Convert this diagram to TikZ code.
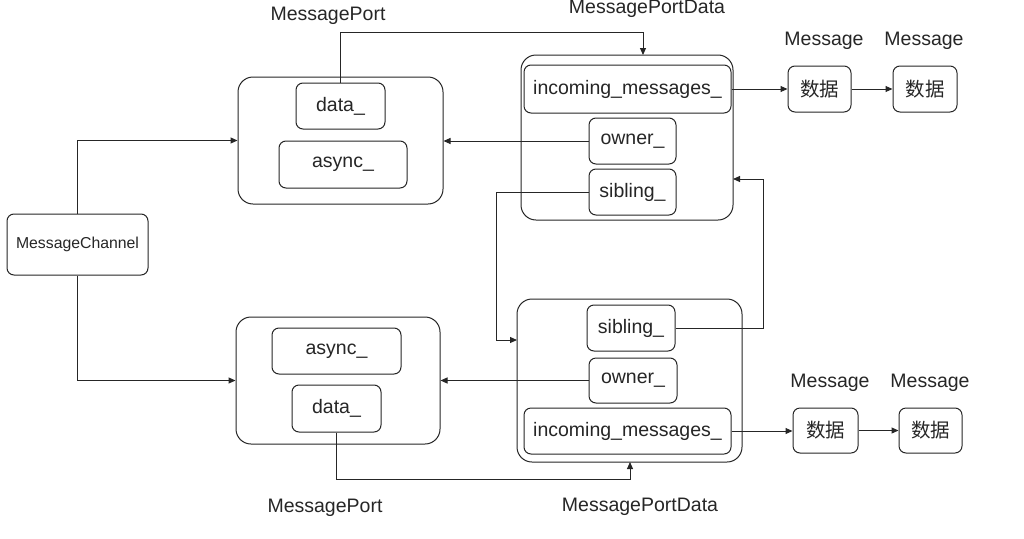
\documentclass[tikz,border=0pt]{standalone}
\usepackage{fontspec}
\setmainfont{Liberation Sans}
\newfontfamily\cjk{Noto Sans CJK SC}
\usetikzlibrary{arrows.meta,calc}
\begin{document}
\begin{tikzpicture}[x=1pt,y=-1pt,
  every node/.style={text=black!85, font=\fontsize{19.5}{23}\selectfont},
  outerbox/.style={draw=black!85, line width=1pt, rounded corners=15pt, fill=white, inner sep=0pt},
  innerbox/.style={draw=black!85, line width=1pt, rounded corners=7pt, fill=white, inner sep=0pt},
  lbl/.style={inner sep=0pt},
  arr/.style={draw=black!85, line width=1pt, -{Triangle[length=7pt,width=6pt]}}]
\useasboundingbox (0,0) rectangle (1024,538);

% MessageChannel
\node[innerbox, minimum width=141, minimum height=61, font=\fontsize{15.8}{19}\selectfont] (mc) at (77.5,244.5) {MessageChannel};

% top MessagePort
\node[outerbox, minimum width=205, minimum height=127] (tmp) at (340.5,140.5) {};
\node[innerbox, minimum width=89, minimum height=46] (tdata) at (340.5,106) {data\_};
\node[innerbox, minimum width=128, minimum height=47] (tasync) at (343,164.5) {async\_};
\node[lbl] (tmplbl) at (328,16) {MessagePort};

% top MessagePortData
\node[outerbox, minimum width=212, minimum height=165] (tmpd) at (627,137.5) {};
\node[innerbox, minimum width=207, minimum height=48] (tinc) at (627.5,89) {incoming\_messages\_};
\node[innerbox, minimum width=87, minimum height=46] (towner) at (632.5,141) {owner\_};
\node[innerbox, minimum width=87, minimum height=46] (tsib) at (632.5,192) {sibling\_};
\node[lbl] (tmpdlbl) at (647,9) {MessagePortData};

% top messages
\node[innerbox, minimum width=63, minimum height=46] (tm1) at (819.5,89) {\cjk 数据};
\node[innerbox, minimum width=64, minimum height=46] (tm2) at (925,89) {\cjk 数据};
\node[lbl] (tm1lbl) at (824,41) {Message};
\node[lbl] (tm2lbl) at (924,41) {Message};

% bottom MessagePort
\node[outerbox, minimum width=204, minimum height=127] (bmp) at (338,380.5) {};
\node[innerbox, minimum width=129, minimum height=46] (basync) at (336.5,351) {async\_};
\node[innerbox, minimum width=89, minimum height=47] (bdata) at (336.5,408.5) {data\_};
\node[lbl] (bmplbl) at (325,508) {MessagePort};

% bottom MessagePortData
\node[outerbox, minimum width=225, minimum height=163] (bmpd) at (629.5,380.5) {};
\node[innerbox, minimum width=88, minimum height=46] (bsib) at (631,328) {sibling\_};
\node[innerbox, minimum width=88, minimum height=45] (bowner) at (633,380.5) {owner\_};
\node[innerbox, minimum width=207, minimum height=46] (binc) at (627.5,431) {incoming\_messages\_};
\node[lbl] (bmpdlbl) at (640,507) {MessagePortData};

% bottom messages
\node[innerbox, minimum width=65, minimum height=45] (bm1) at (825.5,430.5) {\cjk 数据};
\node[innerbox, minimum width=63, minimum height=45] (bm2) at (930.5,430.5) {\cjk 数据};
\node[lbl] (bm1lbl) at (830,383) {Message};
\node[lbl] (bm2lbl) at (930,383) {Message};

% connector end points on borders
\coordinate (tin) at (643,55);
\coordinate (bin) at (630,462);
\coordinate (bsl) at (517,340);
\coordinate (tsr) at (733,179);

% connectors
\draw[arr] (tdata.north) -- ++(0,-50) -| (tin);
\draw[arr] (towner.west) -- (towner.west -| tmp.east);
\draw[arr] (mc.north) |- (tmp.west);
\draw[arr] (mc.south) |- (bmp.west);
\draw[arr] (bowner.west) -- (bowner.west -| bmp.east);
\draw[arr] (bdata.south) -- ++(0,47) -| (bin);
\draw[arr] (tsib.west) -- ++(-92,0) |- (bsl);
\draw[arr] (bsib.east) -- ++(88,0) |- (tsr);
\draw[arr] (tinc.east) -- (tm1.west);
\draw[arr] (tm1.east) -- (tm2.west);
\draw[arr] (binc.east) -- (binc.east -| bm1.west);
\draw[arr] (bm1.east) -- (bm2.west);
\end{tikzpicture}
\end{document}
